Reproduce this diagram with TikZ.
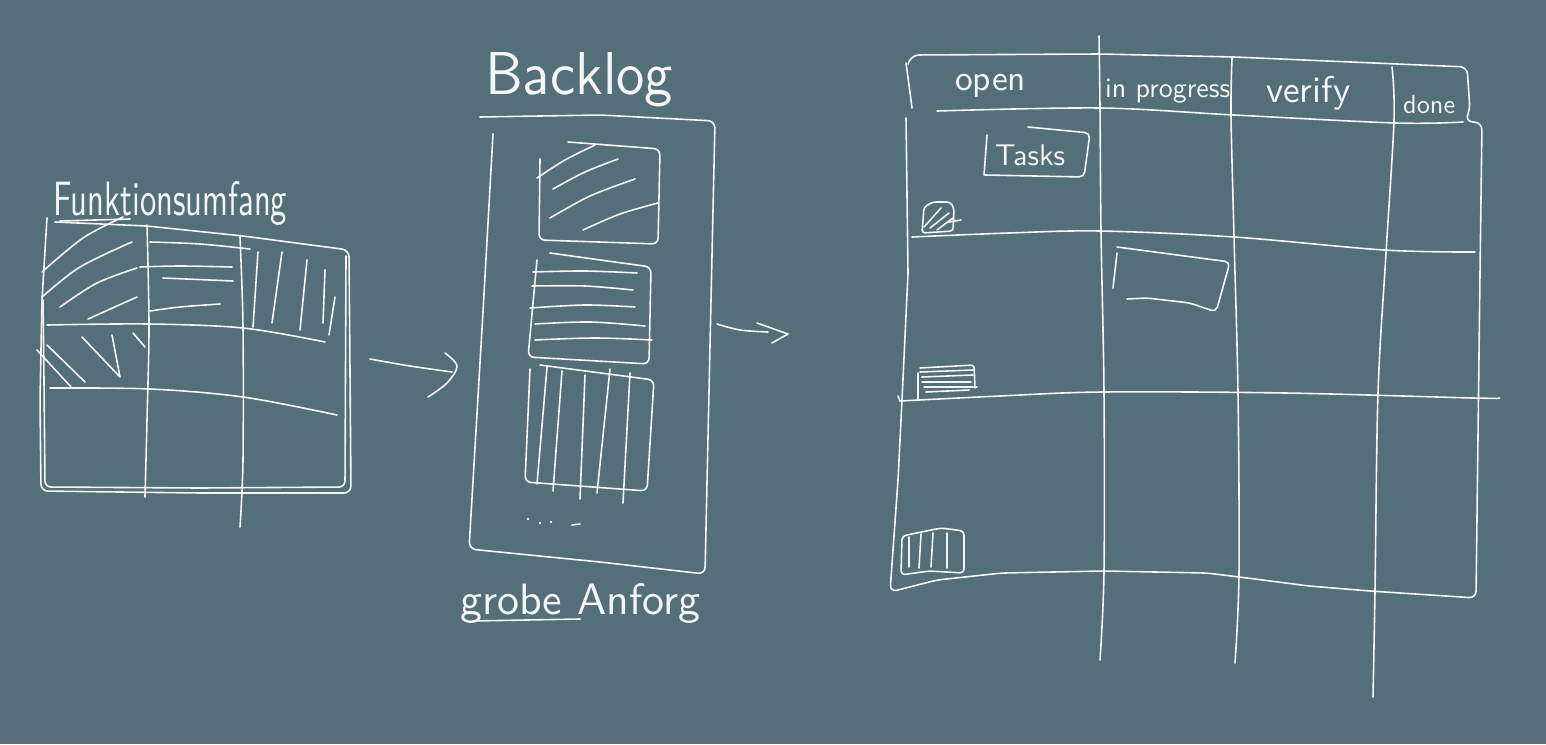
\documentclass[tikz,border=0pt]{standalone}
\usepackage{graphicx}
\definecolor{bg}{HTML}{546E7A}
\definecolor{chalk}{HTML}{F4F6F7}
\begin{document}
\begin{tikzpicture}[x=1pt,y=-1pt,
  pen/.style={draw=chalk,line width=1.6pt,line cap=round,line join=round},
  sm/.style={smooth,tension=0.55},
  lbl/.style={anchor=base west,inner sep=0pt,text=chalk,font=\sffamily}]
\fill[bg] (0,0) rectangle (1546,744);
\useasboundingbox (0,0) rectangle (1546,744);

% ---------------- left grid: Funktionsumfang ----------------
\node[lbl] (tFunk) at (53,215) {\resizebox{234pt}{34pt}{Funktionsumfang}};
\draw[pen] (60,221) -- (130,219);
\draw[pen,rounded corners=7pt] (55,222) -- (147,226) -- (243,236) -- (349,250) -- (351,493) -- (200,493) -- (41,491) -- (40,400) -- (42,300) -- (47,218);
\draw[pen,rounded corners=6pt] (346,256) -- (345,487) -- (200,488) -- (45,487) -- (44,380) -- (43,300);
\draw[pen] plot[sm] coordinates {(147,225) (149,327) (147,420) (145,497)};
\draw[pen] plot[sm] coordinates {(240,237) (243,327) (243,460) (240,527)};
\draw[pen] plot[sm] coordinates {(47,325) (148,324) (243,328) (325,342)};
\draw[pen] plot[sm] coordinates {(50,388) (150,389) (243,397) (337,415)};
% hatch cell 1
\draw[pen] plot[sm] coordinates {(42,272) (83,238) (123,217)};
\draw[pen] plot[sm] coordinates {(42,297) (80,267) (132,242)};
\draw[pen] plot[sm] coordinates {(60,307) (97,283) (137,268)};
\draw[pen] plot[sm] coordinates {(88,319) (137,297)};
% cell 2 lines
\draw[pen] plot[sm] coordinates {(150,242) (200,244) (250,249)};
\draw[pen] plot[sm] coordinates {(140,267) (180,266) (232,267)};
\draw[pen] plot[sm] coordinates {(163,278) (233,281)};
\draw[pen] plot[sm] coordinates {(150,311) (180,307) (220,304)};
% cell 3 verticals
\draw[pen] plot[sm] coordinates {(258,252) (253,327)};
\draw[pen] plot[sm] coordinates {(282,252) (272,323)};
\draw[pen] plot[sm] coordinates {(307,260) (300,330)};
\draw[pen] plot[sm] coordinates {(325,270) (323,323)};
\draw[pen] plot[sm] coordinates {(335,297) (329,335)};
% cell 4 backslashes
\draw[pen] (37,350) -- (72,388);
\draw[pen] (47,345) -- (85,382);
\draw[pen] (82,337) -- (120,377) -- (112,335);
\draw[pen] (133,333) -- (145,347);

% ---------------- arrows ----------------
\coordinate (a1s) at (370,359);
\coordinate (a1e) at (452,372);
\draw[pen] plot[sm] coordinates {(a1s) (410,366) (a1e)};
\draw[pen] plot[sm] coordinates {(445,353) (457,366) (447,383) (428,397)};
\coordinate (a2s) at (717,324);
\coordinate (a2e) at (768,332);
\draw[pen] plot[sm] coordinates {(a2s) (740,330) (a2e)};
\draw[pen] (757,323) -- (788,334) -- (772,343);

% ---------------- Backlog ----------------
\node[lbl] (tBack) at (485,94) {\resizebox{188pt}{42pt}{Backlog}};
\draw[pen,rounded corners=7pt] (480,117) -- (600,115) -- (715,121) -- (711,300) -- (705,574) -- (600,562) -- (469,549) -- (483,312) -- (493,134);
% card 1
\draw[pen,rounded corners=6pt] (568,142) -- (660,149) -- (658,244) -- (539,240) -- (540,159);
\draw[pen] plot[sm] coordinates {(537,178) (565,160) (595,145)};
\draw[pen] plot[sm] coordinates {(553,189) (585,172) (618,159)};
\draw[pen] plot[sm] coordinates {(550,218) (590,196) (635,179)};
\draw[pen] plot[sm] coordinates {(583,230) (620,214) (658,203)};
% card 2
\draw[pen,rounded corners=6pt] (550,253) -- (651,267) -- (649,364) -- (528,357) -- (537,260);
\draw[pen] plot[sm] coordinates {(533,272) (585,271) (637,273)};
\draw[pen] plot[sm] coordinates {(532,286) (585,286) (633,290)};
\draw[pen] plot[sm] coordinates {(530,308) (585,305) (635,307)};
\draw[pen] plot[sm] coordinates {(535,324) (590,322) (645,326)};
\draw[pen] plot[sm] coordinates {(535,340) (595,338) (652,340)};
% card 3
\draw[pen,rounded corners=6pt] (540,365) -- (654,380) -- (647,491) -- (525,482) -- (530,369);
\draw[pen] (547,367) -- (537,484);
\draw[pen] (562,371) -- (553,491);
\draw[pen] (585,375) -- (580,499);
\draw[pen] (610,369) -- (597,493);
\draw[pen] (630,373) -- (623,503);
\fill[chalk] (528,519) circle (1.3) (540,523) circle (1.3) (551,522) circle (1.3);
\draw[pen] (572,525) -- (580,524);
\node[lbl] (tGrob) at (460,614) {\resizebox{240pt}{!}{grobe Anforg}};
\draw[pen] (473,621) -- (580,619);

% ---------------- board ----------------
\draw[pen] plot[sm] coordinates {(906,63) (909,85) (912,108)};
\draw[pen,rounded corners=7pt] (908,64) -- (912,55) -- (1100,54) -- (1234,57) -- (1467,67) -- (1470,110) -- (1465,121) -- (1482,123) -- (1480,273) -- (1476,598) -- (1370,591) -- (1309,586) -- (1247,578) -- (1207,573) -- (1104,571) -- (1002,573) -- (937,580) -- (890,592) [sharp corners] -- (898,480) -- (902,400) -- (908,273) -- (906,118);
\draw[pen] plot[sm] coordinates {(937,111) (1100,108) (1234,115) (1396,123) (1463,122)};
% columns
\draw[pen] plot[sm] coordinates {(1099,36) (1100,108) (1101,231) (1104,393) (1104,571) (1100,660)};
\draw[pen] plot[sm] coordinates {(1232,58) (1231,115) (1234,237) (1238,393) (1239,573) (1235,663)};
\draw[pen] plot[sm] coordinates {(1392,67) (1394,120) (1386,253) (1378,393) (1375,590) (1373,697)};
% rows
\draw[pen] plot[sm] coordinates {(912,237) (1009,233) (1100,231) (1234,237) (1384,250) (1475,252)};
\draw[pen] (898,396) -- (900,401);
\draw[pen] plot[sm] coordinates {(900,401) (1000,396) (1103,392) (1285,393) (1473,398) (1499,398)};
% header labels
\node[lbl] (tOpen) at (955,90) {\resizebox{71pt}{!}{open}};
\node[lbl] (tProg) at (1105,97) {\resizebox{125pt}{!}{in progress}};
\node[lbl] (tVer) at (1266,102) {\resizebox{84pt}{!}{verify}};
\node[lbl] (tDone) at (1403,113) {\resizebox{52pt}{!}{done}};
% Tasks card
\draw[pen,rounded corners=5pt] (1028,127) -- (1090,133) -- (1084,177) -- (985,175);
\draw[pen] (984,175) -- (987,135);
\node[lbl] (tTask) at (995,165) {\resizebox{70pt}{!}{Tasks}};
% small hatched card
\draw[pen,rounded corners=3pt] (922,233) -- (924,207) -- (933,202) -- (950,202) -- (954,208) -- (953,231) -- cycle;
\draw[pen] (924,227) -- (941,208);
\draw[pen] (930,228) -- (949,213);
\draw[pen] (937,230) -- (953,218);
\draw[pen] (949,222) -- (961,220);
% small lines card
\draw[pen] (918,373) -- (918,400);
\draw[pen,rounded corners=3pt] (920,368) -- (974,365) -- (975,388);
\draw[pen] (920,372) -- (973,370);
\draw[pen] (922,377) -- (973,375);
\draw[pen] (922,382) -- (971,382);
\draw[pen] (924,387) -- (977,387);
\draw[pen] (926,392) -- (969,390);
% small verticals card
\draw[pen,rounded corners=4pt] (902,536) -- (941,528) -- (964,531) -- (964,573) -- (929,571) -- (901,575) -- cycle;
\draw[pen] (909,537) -- (909,567);
\draw[pen] (921,534) -- (919,568);
\draw[pen] (933,533) -- (931,567);
\draw[pen] (947,533) -- (947,568);
% in-progress card
\draw[pen,rounded corners=5pt] (1117,247) -- (1230,262) -- (1216,312) -- (1190,303) -- (1147,298) -- (1127,299);
\draw[pen] (1117,253) -- (1113,288);
\end{tikzpicture}
\end{document}
